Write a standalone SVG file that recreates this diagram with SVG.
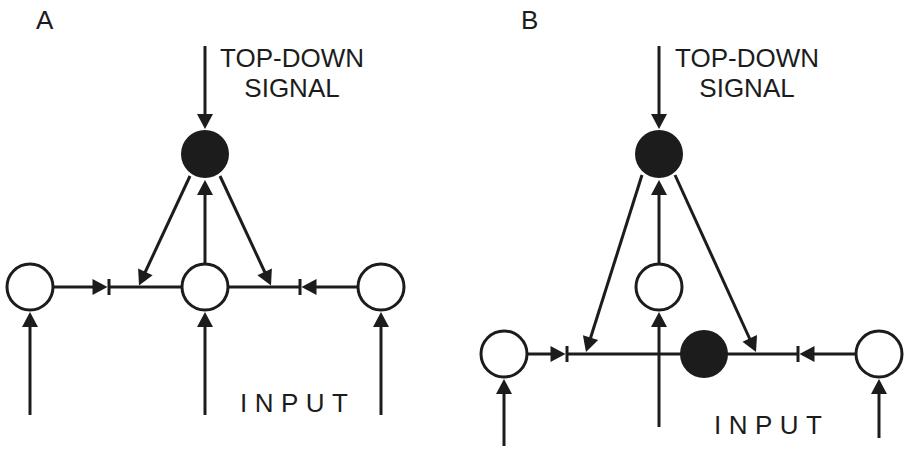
<svg xmlns="http://www.w3.org/2000/svg" width="908" height="450" viewBox="0 0 908 450">
  <style>
    .ln { stroke: #1c1c1c; stroke-width: 3; fill: none; }
    .head { fill: #1c1c1c; }
    .open { fill: #ffffff; stroke: #1c1c1c; stroke-width: 3; }
    .solid { fill: #1c1c1c; stroke: none; }
    .lbl { font-family: "Liberation Sans", Arial, sans-serif; font-size: 26px; fill: #1c1c1c; }
    .mid { text-anchor: middle; }
    .sp { letter-spacing: 7.5px; }
  </style>
  <defs>
    <!-- arrowhead with its tip at the origin, pointing along +x -->
    <path id="ah" class="head" d="M0,0 L-15,-8 L-15,8 Z"/>
  </defs>

  <rect width="908" height="450" fill="#ffffff"/>

  <!-- Panel A -->
  <text class="lbl" x="36" y="29">A</text>
  <text class="lbl mid" x="292" y="67">TOP-DOWN</text>
  <text class="lbl mid" x="292" y="97">SIGNAL</text>
  <text class="lbl sp" x="240" y="412">INPUT</text>

  <g id="connectors-a">
    <line class="ln" x1="205" y1="46" x2="205" y2="122"/>
    <use href="#ah" transform="translate(205,129) rotate(90)"/>
    <line class="ln" x1="205" y1="264" x2="205" y2="187"/>
    <use href="#ah" transform="translate(205,180) rotate(-90)"/>
    <line class="ln" x1="190" y1="176" x2="142" y2="279"/>
    <use href="#ah" transform="translate(139,285.5) rotate(115.1)"/>
    <line class="ln" x1="220" y1="176" x2="268" y2="279"/>
    <use href="#ah" transform="translate(271,285.5) rotate(64.9)"/>
    <!-- lateral pathways -->
    <line class="ln" x1="53" y1="287" x2="100" y2="287"/>
    <use href="#ah" transform="translate(107.5,287) rotate(0)"/>
    <line class="ln" x1="109" y1="279" x2="109" y2="295"/>
    <line class="ln" x1="109" y1="287" x2="182" y2="287"/>
    <line class="ln" x1="229" y1="287" x2="300" y2="287"/>
    <line class="ln" x1="300" y1="279" x2="300" y2="295"/>
    <line class="ln" x1="358" y1="287" x2="309" y2="287"/>
    <use href="#ah" transform="translate(301.5,287) rotate(180)"/>
    <!-- inputs -->
    <line class="ln" x1="30" y1="415" x2="30" y2="319"/>
    <use href="#ah" transform="translate(30,312) rotate(-90)"/>
    <line class="ln" x1="205" y1="415" x2="205" y2="319"/>
    <use href="#ah" transform="translate(205,312) rotate(-90)"/>
    <line class="ln" x1="381" y1="415" x2="381" y2="319"/>
    <use href="#ah" transform="translate(381,312) rotate(-90)"/>
  </g>

  <g id="a-top"><circle class="solid" cx="205" cy="154" r="24"/></g>
  <g id="a-left"><circle class="open" cx="30" cy="287" r="23"/></g>
  <g id="a-center"><circle class="open" cx="205" cy="287" r="23"/></g>
  <g id="a-right"><circle class="open" cx="381" cy="287" r="23"/></g>

  <!-- Panel B -->
  <text class="lbl" x="521" y="29">B</text>
  <text class="lbl mid" x="747" y="67">TOP-DOWN</text>
  <text class="lbl mid" x="747" y="97">SIGNAL</text>
  <text class="lbl sp" x="714" y="434">INPUT</text>

  <g id="connectors-b">
    <line class="ln" x1="659" y1="46" x2="659" y2="122"/>
    <use href="#ah" transform="translate(659,129) rotate(90)"/>
    <line class="ln" x1="659" y1="264" x2="659" y2="187"/>
    <use href="#ah" transform="translate(659,180) rotate(-90)"/>
    <line class="ln" x1="659" y1="427" x2="659" y2="319"/>
    <use href="#ah" transform="translate(659,312) rotate(-90)"/>
    <line class="ln" x1="642" y1="175" x2="588" y2="346"/>
    <use href="#ah" transform="translate(586,352) rotate(107.6)"/>
    <line class="ln" x1="675" y1="175" x2="753" y2="346"/>
    <use href="#ah" transform="translate(756,352) rotate(65.4)"/>
    <!-- lateral pathways -->
    <line class="ln" x1="527" y1="354" x2="558" y2="354"/>
    <use href="#ah" transform="translate(565.5,354) rotate(0)"/>
    <line class="ln" x1="567" y1="346" x2="567" y2="362"/>
    <line class="ln" x1="567" y1="354" x2="681" y2="354"/>
    <line class="ln" x1="727" y1="354" x2="798" y2="354"/>
    <line class="ln" x1="798" y1="346" x2="798" y2="362"/>
    <line class="ln" x1="856" y1="354" x2="807" y2="354"/>
    <use href="#ah" transform="translate(799.5,354) rotate(180)"/>
    <!-- inputs -->
    <line class="ln" x1="504" y1="446" x2="504" y2="386"/>
    <use href="#ah" transform="translate(504,379) rotate(-90)"/>
    <line class="ln" x1="879" y1="438" x2="879" y2="386"/>
    <use href="#ah" transform="translate(879,379) rotate(-90)"/>
  </g>

  <g id="b-top"><circle class="solid" cx="659" cy="154" r="24"/></g>
  <g id="b-upper"><circle class="open" cx="659" cy="287" r="23"/></g>
  <g id="b-left"><circle class="open" cx="504" cy="354" r="23"/></g>
  <g id="b-inhib"><circle class="solid" cx="704" cy="354" r="24"/></g>
  <g id="b-right"><circle class="open" cx="879" cy="354" r="23"/></g>
</svg>
